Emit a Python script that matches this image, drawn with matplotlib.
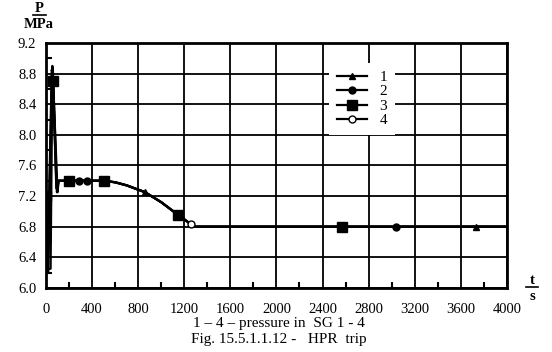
import numpy as np
import matplotlib
matplotlib.use('Agg')
import matplotlib.pyplot as plt
from matplotlib.ticker import MultipleLocator

plt.rcParams['font.family'] = ['Liberation Serif', 'DejaVu Serif']

#=====================================================================
#             pressure in SG 1-4
#=====================================================================
t_tail = [110, 200, 350, 500, 600, 700, 860, 1000, 1150, 1260, 1300, 4000]
p_tail = [7.4, 7.4, 7.4, 7.4, 7.38, 7.34, 7.25, 7.12, 6.95, 6.83, 6.8, 6.8]

t1 = [0, 10, 20, 55, 60, 95] + t_tail
p1 = [7.2, 6.2, 6.2, 8.9, 8.85, 7.25] + p_tail
t2 = [0, 5, 15, 50, 58, 90] + t_tail
p2 = [7.2, 6.3, 6.3, 8.85, 8.8, 7.3] + p_tail
t3 = [0, 12, 40, 55, 62, 100] + t_tail
p3 = [7.2, 6.25, 6.25, 8.75, 8.7, 7.25] + p_tail
t4 = [0, 8, 18, 52, 60, 92] + t_tail
p4 = [7.2, 6.4, 6.4, 8.8, 8.7, 7.3] + p_tail

# marker positions of each series
tm1 = [860, 3730];            pm1 = [7.25, 6.8]
tm2 = [290, 358, 3040];       pm2 = [7.4, 7.4, 6.8]
tm3 = [0, 60, 200, 500, 1150, 2570]
pm3 = [7.2, 8.7, 7.4, 7.4, 6.95, 6.8]
tm4 = [1260];                 pm4 = [6.83]

labels = ['1', '2', '3', '4']

#=====================================================================
fig = plt.figure(figsize=(5.52, 3.52), dpi=100)
ax = fig.add_axes([0.0833, 0.182, 0.835, 0.696])

series = [(t1, p1, tm1, pm1, '^', 'black', 5),
          (t2, p2, tm2, pm2, 'o', 'black', 5),
          (t3, p3, tm3, pm3, 's', 'black', 7),
          (t4, p4, tm4, pm4, 'o', 'white', 5)]

for (t, p, tm, pm, mk, fc, ms), lab in zip(series, labels):
    ax.plot(t, p, color='black', linewidth=1.6, zorder=3)
    ax.plot(tm, pm, linestyle='none', marker=mk, markersize=ms,
            markerfacecolor=fc, markeredgecolor='black', zorder=4)
    # legend handle
    ax.plot([], [], color='black', linewidth=1.6, marker=mk, markersize=ms,
            markerfacecolor=fc, markeredgecolor='black', label=lab)

ax.set_xlim(0, 4000)
ax.set_ylim(6.0, 9.2)
ax.xaxis.set_major_locator(MultipleLocator(400))
ax.xaxis.set_minor_locator(MultipleLocator(200))
ax.yaxis.set_minor_locator(MultipleLocator(0.2))
ax.set_yticks(np.arange(6.0, 9.21, 0.4))
ax.set_yticklabels(['%.1f' % v for v in np.arange(6.0, 9.21, 0.4)])
ax.grid(True, which='major', color='black', linewidth=1.3)
ax.tick_params(which='both', direction='in', colors='black', labelsize=10.5)
ax.tick_params(axis='x', which='major', length=0, pad=11)
ax.tick_params(axis='y', which='major', length=0, pad=7)
ax.tick_params(which='minor', length=4, width=1.5)
for s in ax.spines.values():
    s.set_linewidth(2.0)

leg = ax.legend(loc='center', bbox_to_anchor=(0.685, 0.772), frameon=True,
                fancybox=False, edgecolor='none', facecolor='white',
                framealpha=1, fontsize=11, handlelength=2.0,
                handletextpad=0.8, labelspacing=0.05, borderpad=0.5)
leg.set_zorder(5)

# axis units
fig.text(39/552, 1-8/352, 'P', ha='center', va='center', fontsize=10.5, fontweight='bold')
fig.add_artist(plt.Line2D([33/552, 46/552], [1-15/352, 1-15/352], color='black', linewidth=1.2))
fig.text(39/552, 1-25/352, 'MPa', ha='center', va='center', fontsize=10.5, fontweight='bold')
fig.text(532/552, 1-280/352, 't', ha='center', va='center', fontsize=10.5, fontweight='bold')
fig.add_artist(plt.Line2D([526/552, 538/552], [1-287/352, 1-287/352], color='black', linewidth=1.2))
fig.text(532/552, 1-296/352, 's', ha='center', va='center', fontsize=10.5, fontweight='bold')

fig.text(279/552, 1-323/352, '1 \u2013 4 \u2013 pressure in  SG 1 - 4', ha='center', va='center', fontsize=11)
fig.text(279/552, 1-339/352, 'Fig. 15.5.1.1.12 -   HPR  trip', ha='center', va='center', fontsize=11)

fig.savefig('out.png', dpi=100)
